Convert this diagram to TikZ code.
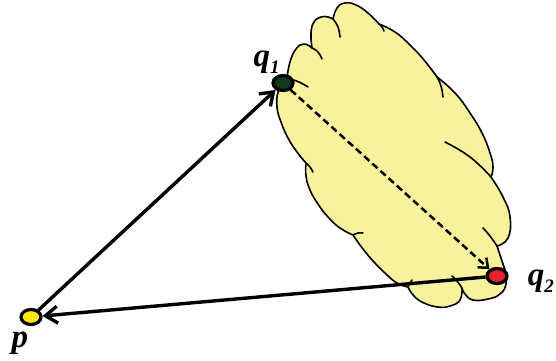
\documentclass[tikz,border=0pt]{standalone}
\usepackage{fontspec}
\setmainfont{Liberation Serif}
\usetikzlibrary{arrows.meta, positioning, shapes.geometric}
\definecolor{blob}{HTML}{F7F29B}
\definecolor{pyellow}{HTML}{FFE812}
\definecolor{qgreen}{HTML}{12381B}
\definecolor{qred}{HTML}{E8202A}
\newcommand{\qsub}[1]{\raisebox{-7pt}{\fontsize{19}{19}\selectfont#1}}

\begin{document}
\begin{tikzpicture}[
  x=1pt, y=-1pt,
  node distance=4pt,
  spot/.style={ellipse, draw=black, line width=3.2pt, minimum width=20pt,
               minimum height=15pt, inner sep=0pt},
  lbl/.style={font=\fontsize{33}{33}\selectfont\bfseries\itshape, inner sep=0pt},
  arr/.style={line width=3.4pt, -{Straight Barb[length=12pt, width=17pt]}},
  dasharr/.style={line width=2.5pt, dash pattern=on 7pt off 4pt,
                  -{Straight Barb[length=8pt, width=13pt]}},
  rim/.style={line width=1.6pt, line cap=round, line join=round},
  lobe/.style={smooth, tension=0.8}
]
  \useasboundingbox (0,0) rectangle (556,360);

  % Cloud
  \filldraw[rim, fill=blob]
    plot[lobe] coordinates {(287,78) (290,62) (296,49) (304,44) (312,48)}
    -- plot[lobe] coordinates {(312,48) (311,33) (314,22) (321,17) (328,17) (333,19)}
    -- plot[lobe] coordinates {(333,19) (337,8) (345,3) (356,5) (368,13) (379,24)}
    -- plot[lobe] coordinates {(379,24) (395,32) (410,45) (424,60) (437,77)}
    -- plot[lobe] coordinates {(437,77) (455,93) (470,113) (482,133) (490,153) (493,167) (491,177)}
    -- plot[lobe] coordinates {(491,177) (503,197) (510,217) (508,238) (497,246)}
    -- plot[lobe] coordinates {(497,246) (501,258) (505,270) (506,284) (500,294) (488,299) (473,300) (465,294) (462,288)}
    -- plot[lobe] coordinates {(462,288) (460,300) (450,306) (438,307) (424,303) (414,296) (408,287)}
    -- plot[lobe] coordinates {(408,287) (397,283) (386,274) (374,262) (363,249) (353,235)}
    -- plot[lobe] coordinates {(353,235) (340,228) (328,217) (318,204) (310,190) (306,176) (306,163)}
    -- plot[lobe] coordinates {(306,163) (297,152) (288,138) (281,122) (277,107) (278,92) (283,82) (287,78)}
    -- cycle;
  % inner strokes of the puffs
  \draw[rim]
    plot[lobe] coordinates {(290,79) (299,82) (308,87)}
    plot[lobe] coordinates {(312,48) (318,52) (322,59)}
    plot[lobe] coordinates {(333,19) (338,27) (340,37)}
    plot[lobe] coordinates {(379,24) (382,27) (384,31)}
    plot[lobe] coordinates {(437,77) (441,86) (443,97)}
    plot[lobe] coordinates {(491,177) (470,157) (445,142)}
    plot[lobe] coordinates {(497,246) (490,236) (483,228)}
    plot[lobe] coordinates {(462,288) (457,281) (452,276)}
    plot[lobe] coordinates {(408,287) (410,283) (412,280)}
    plot[lobe] coordinates {(353,235) (358,233) (363,233)}
    plot[lobe] coordinates {(306,163) (310,167) (313,172)};

  % Points
  \node[spot, fill=pyellow] (p) at (31,317) {};
  \node[spot, fill=qgreen] (q1) at (283,83) {};
  \node[spot, fill=qred] (q2) at (497,276) {};

  % Labels
  \node[lbl, below=6pt of p, xshift=-11pt] (plbl) {p};
  \node[lbl, above left=3pt and -5pt of q1] (q1lbl) {q\qsub{1}};
  \node[lbl, right=19pt of q2, yshift=-5pt] (q2lbl) {q\qsub{2}};

  % Arrows
  \draw[arr] (p) -- (q1);
  \draw[dasharr] (q1) -- (q2);
  \draw[arr] (q2) -- (p);
\end{tikzpicture}
\end{document}
